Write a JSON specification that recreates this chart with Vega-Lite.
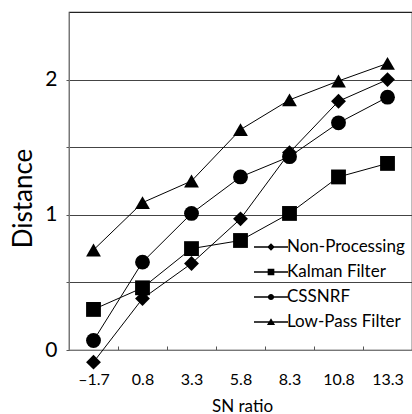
{
  "$schema": "https://vega.github.io/schema/vega-lite/v6.json",
  "width": 343,
  "height": 338,
  "autosize": "none",
  "padding": {"left": 69, "top": 12, "right": 0, "bottom": 64},
  "background": "white",
  "config": {
    "font": "Lato",
    "view": {"stroke": "#222", "strokeWidth": 1.2},
    "axis": {"labelColor": "black", "titleColor": "black", "labelFont": "Lato", "titleFont": "Lato", "titleFontWeight": "normal", "domainColor": "#777", "tickColor": "#555"}
  },
  "data": {
    "values": [
      {"snr": "–1.7", "series": "Non-Processing", "d": -0.09},
      {"snr": "0.8", "series": "Non-Processing", "d": 0.38},
      {"snr": "3.3", "series": "Non-Processing", "d": 0.64},
      {"snr": "5.8", "series": "Non-Processing", "d": 0.97},
      {"snr": "8.3", "series": "Non-Processing", "d": 1.46},
      {"snr": "10.8", "series": "Non-Processing", "d": 1.84},
      {"snr": "13.3", "series": "Non-Processing", "d": 2.0},
      {"snr": "–1.7", "series": "Kalman Filter", "d": 0.3},
      {"snr": "0.8", "series": "Kalman Filter", "d": 0.46},
      {"snr": "3.3", "series": "Kalman Filter", "d": 0.75},
      {"snr": "5.8", "series": "Kalman Filter", "d": 0.81},
      {"snr": "8.3", "series": "Kalman Filter", "d": 1.01},
      {"snr": "10.8", "series": "Kalman Filter", "d": 1.28},
      {"snr": "13.3", "series": "Kalman Filter", "d": 1.38},
      {"snr": "–1.7", "series": "CSSNRF", "d": 0.07},
      {"snr": "0.8", "series": "CSSNRF", "d": 0.65},
      {"snr": "3.3", "series": "CSSNRF", "d": 1.01},
      {"snr": "5.8", "series": "CSSNRF", "d": 1.28},
      {"snr": "8.3", "series": "CSSNRF", "d": 1.43},
      {"snr": "10.8", "series": "CSSNRF", "d": 1.68},
      {"snr": "13.3", "series": "CSSNRF", "d": 1.87},
      {"snr": "–1.7", "series": "Low-Pass Filter", "d": 0.74},
      {"snr": "0.8", "series": "Low-Pass Filter", "d": 1.09},
      {"snr": "3.3", "series": "Low-Pass Filter", "d": 1.25},
      {"snr": "5.8", "series": "Low-Pass Filter", "d": 1.63},
      {"snr": "8.3", "series": "Low-Pass Filter", "d": 1.85},
      {"snr": "10.8", "series": "Low-Pass Filter", "d": 1.99},
      {"snr": "13.3", "series": "Low-Pass Filter", "d": 2.12}
    ]
  },
  "encoding": {
    "x": {
      "field": "snr", "type": "nominal",
      "sort": ["–1.7", "0.8", "3.3", "5.8", "8.3", "10.8", "13.3"],
      "scale": {"type": "band", "paddingInner": 0, "paddingOuter": 0},
      "axis": {
        "title": "SN ratio", "titleFontSize": 17, "titleX": 173, "titleY": 61, "titleBaseline": "alphabetic", "titleAnchor": null,
        "labelAngle": 0, "labelFontSize": 16, "labelPadding": 25, "tickBand": "extent", "tickSize": -4, "grid": false
      }
    },
    "y": {
      "field": "d", "type": "quantitative",
      "scale": {"domain": [0, 2.5], "nice": false},
      "axis": {
        "title": "Distance", "titleFontSize": 26, "titleX": -46, "titleY": 186, "titleAngle": -90, "titleBaseline": "middle", "titleAlign": "center",
        "values": [0, 0.5, 1, 1.5, 2],
        "labelExpr": "datum.value % 1 === 0 ? '' + datum.value : ''",
        "labelFontSize": 21, "labelPadding": 9, "tickSize": 3,
        "grid": true, "gridColor": "#444", "gridWidth": 1.1, "gridOpacity": 1
      }
    }
  },
  "layer": [
    {
      "mark": {"type": "line", "color": "black", "strokeWidth": 1, "clip": false},
      "encoding": {"detail": {"field": "series"}}
    },
    {
      "mark": {"type": "point", "filled": true, "color": "black", "opacity": 1, "size": 220, "clip": false},
      "encoding": {
        "shape": {
          "field": "series", "type": "nominal",
          "scale": {"domain": ["Non-Processing", "Kalman Filter", "CSSNRF", "Low-Pass Filter"], "range": ["diamond", "square", "circle", "triangle-up"]},
          "legend": null
        }
      }
    },
    {
      "transform": [{"filter": "datum.d > 100"}],
      "mark": {"type": "point", "filled": true, "color": "black", "opacity": 1, "size": 324, "clip": false},
      "encoding": {
        "shape": {
          "field": "series", "type": "nominal",
          "scale": {"domain": ["Non-Processing", "Kalman Filter", "CSSNRF", "Low-Pass Filter"], "range": [
            "M-1.89,-0.075L1.89,-0.075L1.89,0.075L-1.89,0.075ZM0,-0.42L0.42,0L0,0.42L-0.42,0Z",
            "M-1.89,-0.075L1.89,-0.075L1.89,0.075L-1.89,0.075ZM-0.37,-0.37L0.37,-0.37L0.37,0.37L-0.37,0.37Z",
            "M-1.89,-0.075L1.89,-0.075L1.89,0.075L-1.89,0.075ZM0.34,0A0.34,0.34,0,1,1,-0.34,0A0.34,0.34,0,1,1,0.34,0Z",
            "M-1.89,-0.075L1.89,-0.075L1.89,0.075L-1.89,0.075ZM0,-0.42L0.45,0.34L-0.45,0.34Z"
          ]},
          "legend": {
            "orient": "none", "legendX": 192, "legendY": 225, "title": null, "padding": 0,
            "labelFont": "Lato", "labelFontSize": 17, "labelColor": "black", "labelOffset": 6,
            "rowPadding": 7, "symbolSize": 324, "symbolOpacity": 1,
            "symbolFillColor": "black"
          }
        }
      }
    }
  ],
  "resolve": {"scale": {"shape": "independent"}, "legend": {"shape": "independent"}}
}
